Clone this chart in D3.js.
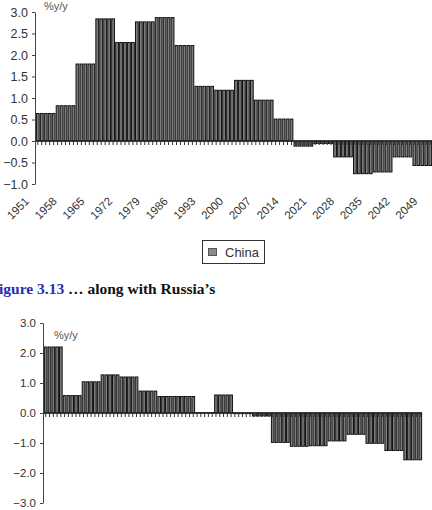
<!DOCTYPE html>
<html>
<head>
<meta charset="utf-8">
<script src="https://cdn.jsdelivr.net/npm/d3@7"></script>
<style>
  html, body { margin: 0; padding: 0; background: #fff; }
  svg { display: block; }
</style>
</head>
<body>
<div id="chart"></div>
<script>
// Years on the category axis (one bar per year)
const years = [
  1951, 1952, 1953, 1954, 1955, 1956, 1957, 1958, 1959, 1960,
  1961, 1962, 1963, 1964, 1965, 1966, 1967, 1968, 1969, 1970,
  1971, 1972, 1973, 1974, 1975, 1976, 1977, 1978, 1979, 1980,
  1981, 1982, 1983, 1984, 1985, 1986, 1987, 1988, 1989, 1990,
  1991, 1992, 1993, 1994, 1995, 1996, 1997, 1998, 1999, 2000,
  2001, 2002, 2003, 2004, 2005, 2006, 2007, 2008, 2009, 2010,
  2011, 2012, 2013, 2014, 2015, 2016, 2017, 2018, 2019, 2020,
  2021, 2022, 2023, 2024, 2025, 2026, 2027, 2028, 2029, 2030,
  2031, 2032, 2033, 2034, 2035, 2036, 2037, 2038, 2039, 2040,
  2041, 2042, 2043, 2044, 2045, 2046, 2047, 2048, 2049, 2050
];

// Labelled years on the China x axis
const yearLabels = [1951, 1958, 1965, 1972, 1979, 1986, 1993, 2000, 2007, 2014, 2021, 2028, 2035, 2042, 2049];

// China, population growth %y/y (5-year steps)
const china = [
  0.64, 0.64, 0.64, 0.64, 0.64,
  0.82, 0.82, 0.82, 0.82, 0.82,
  1.79, 1.79, 1.79, 1.79, 1.79,
  2.84, 2.84, 2.84, 2.84, 2.84,
  2.29, 2.29, 2.29, 2.29, 2.29,
  2.77, 2.77, 2.77, 2.77, 2.77,
  2.87, 2.87, 2.87, 2.87, 2.87,
  2.22, 2.22, 2.22, 2.22, 2.22,
  1.27, 1.27, 1.27, 1.27, 1.27,
  1.18, 1.18, 1.18, 1.18, 1.18,
  1.41, 1.41, 1.41, 1.41, 1.41,
  0.95, 0.95, 0.95, 0.95, 0.95,
  0.51, 0.51, 0.51, 0.51, 0.51,
  -0.12, -0.12, -0.12, -0.12, -0.12,
  -0.06, -0.06, -0.06, -0.06, -0.06,
  -0.37, -0.37, -0.37, -0.37, -0.37,
  -0.76, -0.76, -0.76, -0.76, -0.76,
  -0.72, -0.72, -0.72, -0.72, -0.72,
  -0.37, -0.37, -0.37, -0.37, -0.37,
  -0.57, -0.57, -0.57, -0.57, -0.57
];

// Russia, population growth %y/y
const russia = [
  2.2, 2.2, 2.2, 2.2, 2.2,
  0.58, 0.58, 0.58, 0.58, 0.58,
  1.04, 1.04, 1.04, 1.04, 1.04,
  1.27, 1.27, 1.27, 1.27, 1.27,
  1.2, 1.2, 1.2, 1.2, 1.2,
  0.73, 0.73, 0.73, 0.73, 0.73,
  0.55, 0.55, 0.55, 0.55, 0.55,
  0.55, 0.55, 0.55, 0.55, 0.55,
  0.01, 0.01, 0.01, 0.01, 0.01,
  0.6, 0.6, 0.6, 0.6, 0.6,
  -0.02, -0.02, -0.02, -0.02, -0.02,
  -0.1, -0.1, -0.1, -0.1, -0.1,
  -0.98, -0.98, -0.98, -0.98, -0.98,
  -1.11, -1.11, -1.11, -1.11, -1.11,
  -1.09, -1.09, -1.09, -1.09, -1.09,
  -0.93, -0.93, -0.93, -0.93, -0.93,
  -0.71, -0.71, -0.71, -0.71, -0.71,
  -1.01, -1.01, -1.01, -1.01, -1.01,
  -1.25, -1.25, -1.25, -1.25, -1.25,
  -1.56, -1.56, -1.56, -1.56, -1.56
];

const chinaTicks = [-1, -0.5, 0, 0.5, 1, 1.5, 2, 2.5, 3];
const russiaTicks = [-3, -2, -1, 0, 1, 2, 3];

const width = 432;
const height = 510;
const axisFont = "'Liberation Sans', Arial, sans-serif";

const svg = d3.create("svg")
    .attr("width", width)
    .attr("height", height)
    .attr("viewBox", [0, 0, width, height]);

// Draw one bar panel
function panel(values, opts) {
  const x = d3.scaleBand()
      .domain(years)
      .range([opts.left, opts.right])
      .paddingInner(0.3)
      .paddingOuter(0.1);

  const y = d3.scaleLinear()
      .domain(opts.domain)
      .range([opts.bottom, opts.top]);

  const g = svg.append("g");

  // Bars
  g.append("g")
    .selectAll("rect")
    .data(values)
    .join("rect")
      .attr("x", (d, i) => x(years[i]))
      .attr("width", x.bandwidth())
      .attr("y", d => y(Math.max(0, d)))
      .attr("height", d => Math.abs(y(d) - y(0)))
      .attr("fill", "#7c7c7c")
      .attr("stroke", "#111")
      .attr("stroke-width", 1);

  // Zero line with a small tick under every category
  const xAxis = g.append("g")
      .attr("transform", `translate(0,${y(0)})`)
      .call(d3.axisBottom(x).tickSize(4).tickSizeOuter(0).tickFormat(""));
  xAxis.select(".domain")
      .attr("d", `M${opts.left - 1},0H${opts.right}`)
      .attr("stroke", "#222")
      .attr("stroke-width", 1.3);
  xAxis.selectAll(".tick line").attr("stroke", "#333");

  // Y axis
  const yAxis = g.append("g")
      .attr("transform", `translate(${opts.left - 1},0)`)
      .call(d3.axisLeft(y)
        .tickValues(opts.ticks)
        .tickSize(3)
        .tickSizeOuter(0)
        .tickPadding(4)
        .tickFormat(d3.format(".1f")));
  yAxis.select(".domain").attr("stroke", "#444");
  yAxis.selectAll(".tick line").attr("stroke", "#444");
  yAxis.selectAll("text")
      .attr("font-family", axisFont)
      .attr("font-size", opts.fontSize)
      .attr("fill", "#333");

  // Unit label
  g.append("text")
      .attr("x", opts.unitX)
      .attr("y", opts.unitY)
      .attr("font-family", axisFont)
      .attr("font-size", 11)
      .attr("fill", "#555")
      .text("%y/y");

  return x;
}

// China
const xChina = panel(china, {
  left: 36, right: 432, top: 12, bottom: 184,
  domain: [-1, 3], ticks: chinaTicks, fontSize: 12.5,
  unitX: 44, unitY: 10
});

// Rotated year labels
svg.append("g")
  .selectAll("text")
  .data(yearLabels)
  .join("text")
    .attr("transform", d => `translate(${xChina(d) + xChina.bandwidth() / 2 - 8},202) rotate(-45)`)
    .attr("text-anchor", "end")
    .attr("font-family", axisFont)
    .attr("font-size", 11.5)
    .attr("fill", "#333")
    .text(d => d);

// Legend
const legend = svg.append("g");
legend.append("rect")
    .attr("x", 202.5).attr("y", 240.5)
    .attr("width", 62).attr("height", 23)
    .attr("fill", "#fff")
    .attr("stroke", "#333");
legend.append("rect")
    .attr("x", 208.5).attr("y", 248.5)
    .attr("width", 8).attr("height", 7)
    .attr("fill", "#8a8a8a")
    .attr("stroke", "#555");
legend.append("text")
    .attr("x", 225)
    .attr("y", 257)
    .attr("font-family", axisFont)
    .attr("font-size", 13)
    .attr("fill", "#333")
    .text("China");

// Caption between the two charts
const caption = svg.append("text")
    .attr("x", -1)
    .attr("y", 294)
    .attr("font-family", "'Liberation Serif', 'Times New Roman', serif")
    .attr("font-weight", "bold")
    .attr("font-size", 15.5);
caption.append("tspan").attr("fill", "#2a2ab4").text("igure 3.13");
caption.append("tspan").attr("fill", "#111").text(" \u2026 along with Russia\u2019s");

// Russia
panel(russia, {
  left: 44, right: 422, top: 323, bottom: 503,
  domain: [-3, 3], ticks: russiaTicks, fontSize: 11.5,
  unitX: 54, unitY: 339
});

document.getElementById("chart").appendChild(svg.node());
</script>
</body>
</html>
